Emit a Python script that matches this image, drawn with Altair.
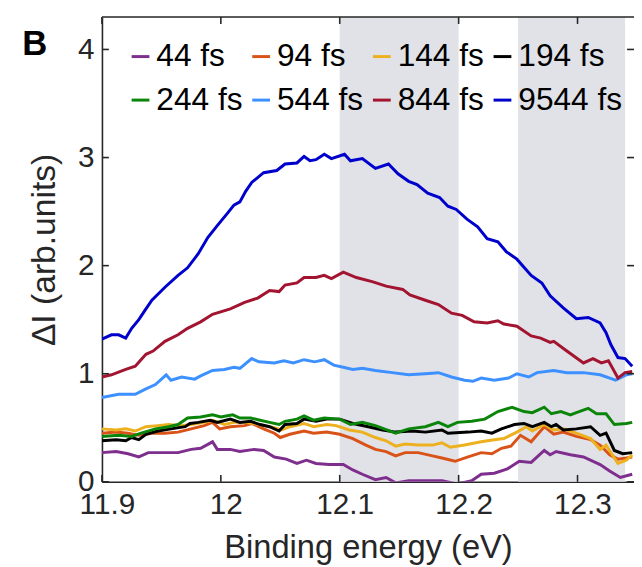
import altair as alt
import pandas as pd

# ---------------- data ----------------
series_labels = ["44 fs", "94 fs", "144 fs", "194 fs",
                 "244 fs", "544 fs", "844 fs", "9544 fs"]
series_colors = ["#7E2F8E", "#D95319", "#EDB120", "#000000",
                 "#0A850A", "#3D90FF", "#A2142F", "#0000CD"]

x_44 = [11.900, 11.912, 11.922, 11.931, 11.939, 11.953, 11.964, 11.975, 11.983, 11.993,
        11.997, 12.008, 12.016, 12.028, 12.036, 12.045, 12.055, 12.064, 12.072, 12.080,
        12.091, 12.103, 12.111, 12.119, 12.130, 12.139, 12.147, 12.158, 12.172, 12.186,
        12.199, 12.211, 12.219, 12.230, 12.241, 12.251, 12.261, 12.272, 12.277, 12.282,
        12.294, 12.305, 12.319, 12.327, 12.336, 12.346]
y_44 = [0.27, 0.28, 0.26, 0.23, 0.27, 0.27, 0.27, 0.30, 0.31, 0.37,
        0.30, 0.30, 0.28, 0.30, 0.29, 0.23, 0.21, 0.17, 0.20, 0.17,
        0.16, 0.16, 0.11, 0.07, 0.02, 0.04, -0.01, 0.01, 0.01, 0.01,
        -0.02, 0.01, 0.07, 0.08, 0.12, 0.19, 0.18, 0.29, 0.25, 0.28,
        0.25, 0.23, 0.16, 0.10, 0.04, 0.07]

x_94 = [11.900, 11.912, 11.922, 11.931, 11.942, 11.953, 11.964, 11.975, 11.986, 11.993,
        11.999, 12.008, 12.020, 12.026, 12.036, 12.045, 12.050, 12.058, 12.070, 12.078,
        12.089, 12.100, 12.111, 12.122, 12.130, 12.139, 12.147, 12.155, 12.166, 12.178,
        12.186, 12.197, 12.208, 12.219, 12.228, 12.236, 12.244, 12.252, 12.261, 12.272,
        12.280, 12.288, 12.299, 12.311, 12.319, 12.327, 12.334, 12.341, 12.346]
y_94 = [0.45, 0.46, 0.45, 0.43, 0.45, 0.45, 0.46, 0.49, 0.52, 0.55,
        0.49, 0.51, 0.52, 0.54, 0.49, 0.45, 0.41, 0.44, 0.47, 0.45,
        0.46, 0.44, 0.40, 0.34, 0.30, 0.28, 0.24, 0.27, 0.27, 0.24,
        0.22, 0.19, 0.23, 0.27, 0.26, 0.31, 0.33, 0.43, 0.37, 0.51,
        0.44, 0.46, 0.42, 0.39, 0.34, 0.25, 0.21, 0.22, 0.23]

x_144 = [11.900, 11.912, 11.920, 11.928, 11.937, 11.947, 11.956, 11.967, 11.975, 11.986,
         11.993, 12.003, 12.011, 12.020, 12.028, 12.036, 12.045, 12.051, 12.058, 12.070,
         12.078, 12.089, 12.097, 12.108, 12.119, 12.130, 12.139, 12.147, 12.155, 12.166,
         12.178, 12.186, 12.193, 12.205, 12.219, 12.230, 12.238, 12.249, 12.257, 12.262,
         12.272, 12.280, 12.288, 12.299, 12.311, 12.319, 12.324, 12.334, 12.341, 12.346]
y_144 = [0.49, 0.48, 0.49, 0.47, 0.51, 0.52, 0.53, 0.52, 0.53, 0.55,
         0.57, 0.53, 0.55, 0.55, 0.54, 0.52, 0.50, 0.48, 0.51, 0.54,
         0.51, 0.53, 0.52, 0.48, 0.46, 0.41, 0.38, 0.33, 0.35, 0.34,
         0.34, 0.36, 0.32, 0.34, 0.37, 0.39, 0.40, 0.46, 0.51, 0.47,
         0.53, 0.48, 0.49, 0.45, 0.40, 0.30, 0.34, 0.17, 0.20, 0.25]

x_194 = [11.900, 11.912, 11.920, 11.925, 11.931, 11.937, 11.947, 11.958, 11.970, 11.974,
         11.981, 11.991, 11.997, 12.008, 12.016, 12.025, 12.033, 12.041, 12.049, 12.054,
         12.064, 12.070, 12.080, 12.089, 12.100, 12.111, 12.124, 12.136, 12.147, 12.161,
         12.172, 12.186, 12.191, 12.208, 12.219, 12.228, 12.236, 12.247, 12.255, 12.262,
         12.272, 12.278, 12.282, 12.288, 12.299, 12.311, 12.319, 12.324, 12.331, 12.338,
         12.346]
y_194 = [0.38, 0.39, 0.38, 0.41, 0.39, 0.44, 0.47, 0.49, 0.51, 0.54,
         0.55, 0.57, 0.55, 0.58, 0.55, 0.56, 0.53, 0.51, 0.47, 0.53,
         0.54, 0.58, 0.56, 0.58, 0.58, 0.54, 0.51, 0.48, 0.46, 0.47,
         0.46, 0.48, 0.45, 0.46, 0.47, 0.45, 0.49, 0.53, 0.54, 0.51,
         0.55, 0.51, 0.53, 0.48, 0.49, 0.51, 0.43, 0.45, 0.29, 0.26,
         0.27]

x_244 = [11.900, 11.914, 11.925, 11.933, 11.945, 11.956, 11.964, 11.972, 11.983, 11.993,
         12.000, 12.010, 12.016, 12.025, 12.033, 12.041, 12.049, 12.054, 12.064, 12.070,
         12.078, 12.087, 12.100, 12.109, 12.119, 12.130, 12.147, 12.158, 12.172, 12.183,
         12.191, 12.199, 12.211, 12.222, 12.233, 12.245, 12.255, 12.262, 12.272, 12.278,
         12.286, 12.294, 12.299, 12.309, 12.316, 12.324, 12.331, 12.341, 12.346]
y_244 = [0.42, 0.43, 0.42, 0.45, 0.49, 0.51, 0.53, 0.59, 0.60, 0.62,
         0.60, 0.62, 0.59, 0.59, 0.57, 0.55, 0.53, 0.56, 0.58, 0.61,
         0.57, 0.59, 0.58, 0.53, 0.55, 0.52, 0.45, 0.49, 0.51, 0.55,
         0.51, 0.55, 0.56, 0.58, 0.65, 0.69, 0.65, 0.64, 0.69, 0.63,
         0.65, 0.62, 0.64, 0.68, 0.63, 0.63, 0.53, 0.54, 0.55]

x_544 = [11.900, 11.914, 11.928, 11.937, 11.945, 11.954, 11.958, 11.967, 11.978, 11.983,
         11.993, 12.003, 12.011, 12.016, 12.026, 12.032, 12.045, 12.053, 12.061, 12.070,
         12.079, 12.087, 12.095, 12.103, 12.111, 12.119, 12.130, 12.144, 12.158, 12.172,
         12.183, 12.194, 12.205, 12.212, 12.219, 12.230, 12.242, 12.249, 12.259, 12.266,
         12.280, 12.291, 12.305, 12.319, 12.332, 12.341, 12.346]
y_544 = [0.78, 0.81, 0.81, 0.86, 0.90, 0.99, 0.94, 0.97, 0.95, 0.98,
         1.03, 1.04, 1.06, 1.05, 1.14, 1.11, 1.10, 1.12, 1.10, 1.13,
         1.11, 1.13, 1.08, 1.06, 1.04, 1.05, 1.03, 1.01, 0.99, 1.00,
         1.01, 0.97, 0.94, 0.93, 0.96, 0.94, 0.96, 1.00, 0.97, 1.01,
         1.03, 1.01, 1.01, 0.99, 0.94, 0.99, 1.00]

x_844 = [11.900, 11.908, 11.920, 11.928, 11.937, 11.943, 11.953, 11.964, 11.972, 11.983,
         11.993, 12.008, 12.020, 12.031, 12.041, 12.049, 12.054, 12.064, 12.070, 12.080,
         12.087, 12.093, 12.103, 12.114, 12.128, 12.139, 12.153, 12.159, 12.172, 12.183,
         12.194, 12.203, 12.213, 12.224, 12.233, 12.238, 12.249, 12.261, 12.269, 12.277,
         12.280, 12.291, 12.305, 12.313, 12.320, 12.326, 12.334, 12.340, 12.346]
y_844 = [0.97, 0.99, 1.04, 1.07, 1.18, 1.21, 1.30, 1.36, 1.42, 1.48,
         1.55, 1.60, 1.66, 1.70, 1.77, 1.76, 1.82, 1.84, 1.89, 1.89,
         1.91, 1.88, 1.94, 1.89, 1.85, 1.81, 1.78, 1.73, 1.68, 1.64,
         1.56, 1.54, 1.48, 1.47, 1.49, 1.46, 1.44, 1.35, 1.33, 1.29,
         1.30, 1.21, 1.10, 1.14, 1.10, 1.12, 0.96, 1.01, 1.02]

x_9544 = [11.900, 11.908, 11.914, 11.920, 11.925, 11.931, 11.937, 11.942, 11.953, 11.964,
          11.972, 11.981, 11.989, 11.997, 12.006, 12.011, 12.016, 12.021, 12.026, 12.036,
          12.047, 12.054, 12.064, 12.070, 12.075, 12.080, 12.087, 12.093, 12.104, 12.109,
          12.119, 12.130, 12.141, 12.149, 12.158, 12.165, 12.174, 12.184, 12.191, 12.198,
          12.207, 12.216, 12.224, 12.233, 12.240, 12.249, 12.261, 12.270, 12.277, 12.288,
          12.299, 12.309, 12.319, 12.324, 12.328, 12.334, 12.340, 12.346]
y_9544 = [1.32, 1.36, 1.36, 1.33, 1.42, 1.50, 1.60, 1.68, 1.80, 1.91,
          1.98, 2.11, 2.26, 2.37, 2.49, 2.56, 2.59, 2.69, 2.77, 2.86,
          2.88, 2.94, 2.95, 3.01, 2.97, 2.98, 3.03, 2.99, 3.03, 2.97,
          2.99, 2.90, 2.94, 2.85, 2.78, 2.75, 2.67, 2.63, 2.55, 2.52,
          2.43, 2.36, 2.25, 2.22, 2.13, 2.06, 1.91, 1.84, 1.72, 1.61,
          1.51, 1.52, 1.47, 1.38, 1.27, 1.15, 1.14, 1.07]

band_start = [12.10, 12.25]
band_end = [12.20, 12.34]
x_ticks = [11.9, 12.0, 12.1, 12.2, 12.3]
y_ticks = [0, 1, 2, 3, 4]

# ---------------- build table ----------------
x_lists = [x_44, x_94, x_144, x_194, x_244, x_544, x_844, x_9544]
y_lists = [y_44, y_94, y_144, y_194, y_244, y_544, y_844, y_9544]
rows = []
for lab, xs, ys in zip(series_labels, x_lists, y_lists):
    assert len(xs) == len(ys), lab
    for a, b in zip(xs, ys):
        rows.append({"series": lab, "x": a, "y": b})
df = pd.DataFrame(rows)

W, H = 538, 470
FONT = "Liberation Sans"
AX = "#262626"
TICK = 7

xscale = alt.Scale(domain=[11.9, 12.3475], nice=False, zero=False)
yscale = alt.Scale(domain=[0, 4.3], nice=False, zero=False)

xaxis = alt.Axis(values=x_ticks, format="~g", ticks=False, grid=False,
                 domainColor=AX, domainWidth=1.6, labelFont=FONT, labelFontSize=30,
                 labelColor=AX, labelPadding=8, labelOffset=5, labelFlush=False,
                 labelOverlap=False,
                 title="Binding energy (eV)", titleFont=FONT, titleFontSize=33,
                 titleFontWeight="normal", titleColor=AX, titlePadding=13)
yaxis = alt.Axis(values=y_ticks, format="d", ticks=False, grid=False,
                 domainColor=AX, domainWidth=1.6, labelFont=FONT, labelFontSize=30,
                 labelColor=AX, labelPadding=8, labelOverlap=False,
                 title="ΔI (arb.units)", titleFont=FONT, titleFontSize=34,
                 titleFontWeight="normal", titleColor=AX, titlePadding=16)

bands = alt.Chart(pd.DataFrame({"a": band_start, "b": band_end})).mark_rect(
    color="#e1e2e8").encode(
    x=alt.X("a:Q", scale=xscale, axis=xaxis), x2="b:Q",
    y=alt.value(0), y2=alt.value(H))

lines = alt.Chart(df).mark_line(strokeWidth=3, clip=True).encode(
    x=alt.X("x:Q", scale=xscale, axis=xaxis),
    y=alt.Y("y:Q", scale=yscale, axis=yaxis),
    color=alt.Color("series:N", sort=series_labels,
                    scale=alt.Scale(domain=series_labels, range=series_colors),
                    legend=alt.Legend(orient="none", legendX=23, legendY=24, columns=4,
                                      direction="horizontal", gridAlign="each",
                                      title=None, symbolType="stroke", symbolSize=324,
                                      symbolStrokeWidth=3, labelFont=FONT,
                                      labelFontSize=32, labelColor="black",
                                      labelOffset=0, columnPadding=2, rowPadding=12,
                                      padding=0, labelLimit=0)))

xt = alt.Chart(pd.DataFrame({"t": x_ticks}))
yt = alt.Chart(pd.DataFrame({"t": y_ticks}))
rule = dict(color=AX, strokeWidth=1.6)
bottom_ticks = xt.mark_rule(**rule).encode(
    x=alt.X("t:Q", scale=xscale, axis=xaxis), y=alt.value(H), y2=alt.value(H - TICK))
top_ticks = xt.mark_rule(**rule).encode(
    x=alt.X("t:Q", scale=xscale, axis=xaxis), y=alt.value(0), y2=alt.value(TICK))
left_ticks = yt.mark_rule(**rule).encode(
    y=alt.Y("t:Q", scale=yscale, axis=yaxis), x=alt.value(0), x2=alt.value(TICK))
right_ticks = yt.mark_rule(**rule).encode(
    y=alt.Y("t:Q", scale=yscale, axis=yaxis), x=alt.value(W - TICK), x2=alt.value(W))
top_border = alt.Chart(pd.DataFrame({"k": [0]})).mark_rule(**rule).encode(
    x=alt.value(0), x2=alt.value(W), y=alt.value(0))
panel = alt.Chart(pd.DataFrame({"t": ["B"]})).mark_text(
    font=FONT, fontSize=35, fontWeight="bold", align="center", baseline="middle",
    color="black").encode(text="t:N", x=alt.value(-68), y=alt.value(27))

chart = alt.layer(bands, lines, bottom_ticks, top_ticks, left_ticks, right_ticks,
                  top_border, panel).properties(
    width=W, height=H,
    padding={"left": 95, "top": 6, "right": 0, "bottom": 83},
    autosize=alt.AutoSizeParams(type="none"),
).configure_view(stroke=None)

chart.save("out.html", embed_options={"renderer": "svg", "actions": False})
